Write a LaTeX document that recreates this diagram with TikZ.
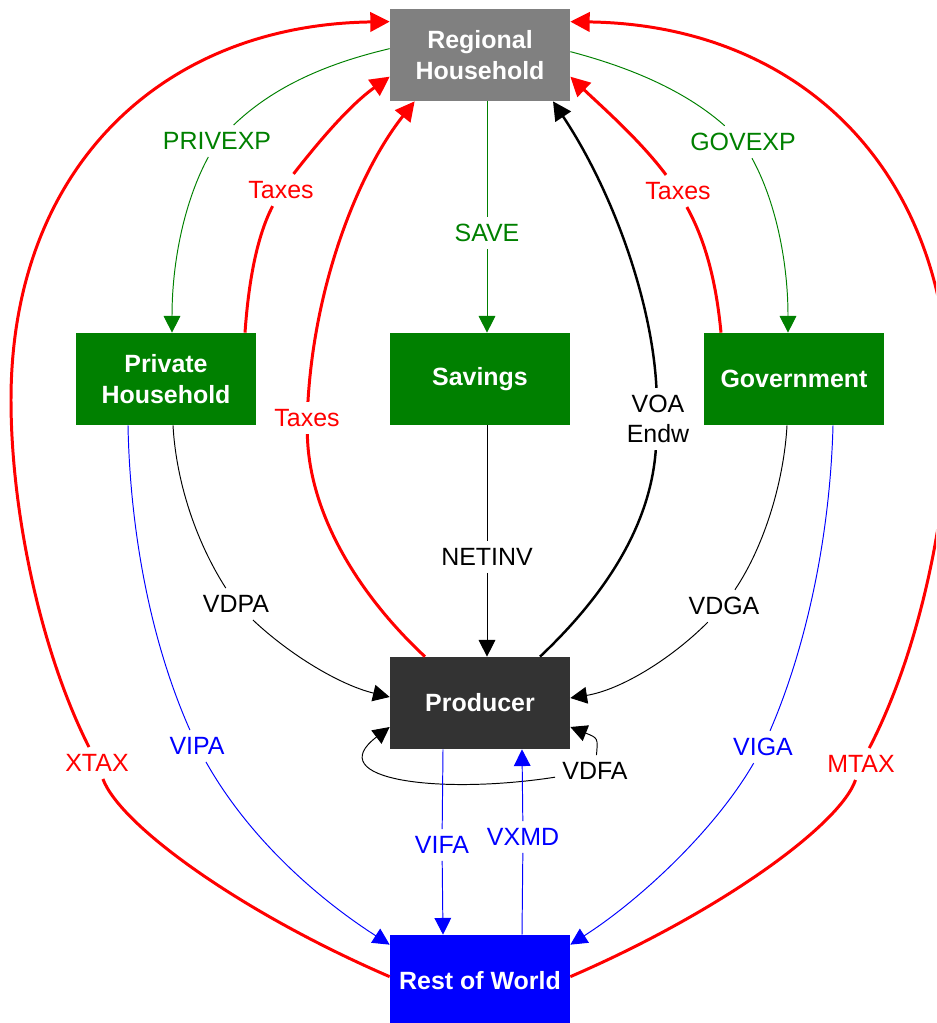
\documentclass[tikz,border=0pt]{standalone}
\usepackage{fontspec}
\setmainfont{Liberation Sans}
\usetikzlibrary{arrows.meta, positioning, calc}

\definecolor{flowgreen}{HTML}{008000}
\definecolor{rhgray}{HTML}{808080}
\definecolor{prodgray}{HTML}{333333}

\begin{document}
\begin{tikzpicture}[x=0.02cm, y=-0.02cm,
  box/.style={rectangle, minimum width=3.6cm, minimum height=1.84cm, align=center, text=white, font=\fontsize{14.2}{17.5}\selectfont\bfseries},
  lbl/.style={inner sep=4pt, align=center, font=\fontsize{14.2}{17}\selectfont},
  flow/.style={line width=0.55pt, >={Triangle[length=9.5pt, width=9.5pt]}},
  taxflow/.style={red, line width=1.7pt, >={Triangle[length=11pt, width=11pt]}},
  factorflow/.style={black, line width=1.4pt, >={Triangle[length=10.5pt, width=10.5pt]}}]
\useasboundingbox (0,0) rectangle (936,1023);
\clip (0,0) rectangle (936,1023);

% agents
\node[box, fill=rhgray] (rh) at (480,55) {Regional\\Household};
\node[box, fill=flowgreen] (ph) at (166,379) {Private\\Household};
\node[box, fill=flowgreen] (sav) at (480,379) {Savings};
\node[box, fill=flowgreen] (gov) at (794,379) {Government};
\node[box, fill=prodgray] (prod) at (480,703) {Producer};
\node[box, fill=blue] (row) at (480,981) {Rest of World};

% flow labels
\node[lbl, text=flowgreen] (lprivexp) at (217,141) {PRIVEXP};
\node[lbl, text=flowgreen] (lgovexp) at (743,142) {GOVEXP};
\node[lbl, text=flowgreen] (lsave) at (487,233) {SAVE};
\node[lbl, text=red] (ltaxph) at (281,190) {Taxes};
\node[lbl, text=red] (ltaxprod) at (307,418) {Taxes};
\node[lbl, text=red] (ltaxgov) at (678,191) {Taxes};
\node[lbl] (lvoa) at (658,419) {VOA\\Endw};
\node[lbl] (lnetinv) at (487,557) {NETINV};
\node[lbl] (lvdpa) at (236,604) {VDPA};
\node[lbl] (lvdga) at (724,606) {VDGA};
\node[lbl] (lvdfa) at (595,771) {VDFA};
\node[lbl, text=blue] (lvipa) at (197,746) {VIPA};
\node[lbl, text=blue] (lviga) at (763,747) {VIGA};
\node[lbl, text=blue] (lvifa) at (442,845) {VIFA};
\node[lbl, text=blue] (lvxmd) at (523,837) {VXMD};
\node[lbl, text=red] (lxtax) at (97,763) {XTAX};
\node[lbl, text=red] (lmtax) at (861,764) {MTAX};

% expenditure from regional household
\draw[flow, flowgreen] ($(rh.north west)+(0,40)$) .. controls (320,65) and (270,90) .. (lprivexp);
\draw[flow, flowgreen, ->] (lprivexp) .. controls (185,200) and (172,260) .. ($(ph.north)+(6,0)$);
\draw[flow, flowgreen] ($(rh.north east)+(0,43)$) .. controls (640,70) and (690,95) .. (lgovexp);
\draw[flow, flowgreen, ->] (lgovexp) .. controls (775,200) and (788,260) .. ($(gov.north)+(-6,0)$);
\draw[flow, flowgreen] ($(rh.south)+(7,0)$) -- (lsave);
\draw[flow, flowgreen, ->] (lsave) -- ($(sav.north)+(7,0)$);

% taxes back to regional household
\draw[taxflow] ($(ph.north)+(79,0)$) .. controls (248,290) and (255,240) .. (ltaxph);
\draw[taxflow, ->] (ltaxph) .. controls (320,140) and (350,105) .. ($(rh.north west)+(0,68)$);
\draw[taxflow] ($(prod.north)+(-55,0)$) .. controls (362,598) and (309,517) .. (ltaxprod);
\draw[taxflow, ->] (ltaxprod) .. controls (315,280) and (360,170) .. ($(rh.south west)+(25,0)$);
\draw[taxflow] ($(gov.north)+(-73,0)$) .. controls (716,280) and (705,240) .. (ltaxgov);
\draw[taxflow, ->] (ltaxgov) .. controls (640,140) and (600,105) .. ($(rh.north east)+(0,68)$);

% endowments
\draw[factorflow] ($(prod.north)+(60,0)$) .. controls (600,600) and (650,530) .. (lvoa);
\draw[factorflow, ->] (lvoa) .. controls (652,300) and (612,190) .. ($(rh.south)+(73,0)$);

% domestic purchases
\draw[flow] ($(sav.south)+(7,0)$) -- (lnetinv);
\draw[flow, ->] (lnetinv) -- ($(prod.north)+(7,0)$);
\draw[flow] ($(ph.south)+(7,0)$) .. controls (176,480) and (195,540) .. (lvdpa);
\draw[flow, ->] (lvdpa) .. controls (290,655) and (340,685) .. ($(prod.west)+(0,-6)$);
\draw[flow] ($(gov.south)+(-7,0)$) .. controls (784,480) and (765,545) .. (lvdga);
\draw[flow, ->] (lvdga) .. controls (670,660) and (620,690) .. ($(prod.east)+(0,-5)$);
\draw[flow, ->] (lvdfa) .. controls (440,795) and (320,780) .. ($(prod.west)+(0,24)$);
\draw[flow, ->] (lvdfa) .. controls (598,738) .. ($(prod.east)+(0,24)$);

% imports and exports
\draw[flow, blue] ($(ph.south)+(-38,0)$) .. controls (130,530) and (150,640) .. (lvipa);
\draw[flow, blue, ->] (lvipa) .. controls (250,840) and (320,900) .. ($(row.north west)+(0,10)$);
\draw[flow, blue] ($(gov.south)+(39,0)$) .. controls (830,540) and (805,650) .. (lviga);
\draw[flow, blue, ->] (lviga) .. controls (715,830) and (640,900) .. ($(row.north east)+(0,10)$);
\draw[flow, blue] ($(prod.south)+(-37,0)$) -- (lvifa);
\draw[flow, blue, ->] (lvifa) -- ($(row.north)+(-37,0)$);
\draw[flow, blue] ($(row.north)+(42,0)$) -- (lvxmd);
\draw[flow, blue, ->] (lvxmd) -- ($(prod.south)+(42,0)$);

% trade taxes
\draw[taxflow] ($(row.north west)+(0,42)$) .. controls (240,912) and (120,825) .. (lxtax);
\draw[taxflow, ->] (lxtax) .. controls (40,650) and (11,510) .. (11,400) .. controls (11,170) and (160,25) .. ($(rh.north west)+(0,13)$);
\draw[taxflow] ($(row.north east)+(0,42)$) .. controls (720,912) and (840,825) .. (lmtax);
\draw[taxflow, ->] (lmtax) .. controls (920,650) and (949,510) .. (949,400) .. controls (949,170) and (800,25) .. ($(rh.north east)+(0,13)$);
\end{tikzpicture}
\end{document}
